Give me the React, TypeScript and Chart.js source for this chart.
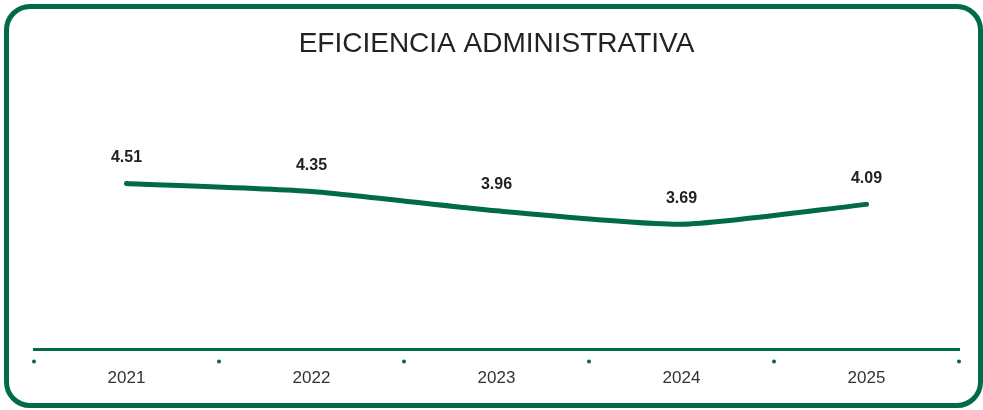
import React, { useEffect, useRef } from "react";
import { Chart, registerables } from "chart.js";

Chart.register(...registerables);

const TITLE = "EFICIENCIA ADMINISTRATIVA";
const years = ["2021", "2022", "2023", "2024", "2025"];
const values = [4.51, 4.35, 3.96, 3.69, 4.09];

const GREEN = "#006B46";
const TEXT = "#222222";
const FONT = "'Liberation Sans', Arial, Helvetica, sans-serif";

const dotsPlugin = {
  id: "boundaryDots",
  afterDraw(chart: any) {
    const x = chart.scales.x;
    const ctx = chart.ctx;
    const y = chart.chartArea.bottom + 12;
    ctx.save();
    ctx.fillStyle = GREEN;
    for (let i = 0; i <= years.length; i++) {
      const px = x.getPixelForValue(i - 0.5);
      ctx.beginPath();
      ctx.arc(px, y, 2, 0, Math.PI * 2);
      ctx.fill();
    }
    ctx.restore();
  },
};

const labelsPlugin = {
  id: "valueLabels",
  afterDatasetsDraw(chart: any) {
    const ctx = chart.ctx;
    const meta = chart.getDatasetMeta(0);
    ctx.save();
    ctx.fillStyle = TEXT;
    ctx.font = `bold 16px ${FONT}`;
    ctx.textAlign = "center";
    ctx.textBaseline = "middle";
    meta.data.forEach((pt: any, i: number) => {
      ctx.fillText(values[i].toFixed(2), pt.x, pt.y - 26);
    });
    ctx.restore();
  },
};

export default function App() {
  const ref = useRef<HTMLCanvasElement>(null);
  useEffect(() => {
    if (!ref.current) return;
    const chart = new Chart(ref.current, {
      type: "line",
      data: {
        labels: years,
        datasets: [
          {
            data: values,
            borderColor: GREEN,
            borderWidth: 5,
            borderCapStyle: "round",
            borderJoinStyle: "round",
            pointRadius: 0,
            tension: 0.2,
            fill: false,
          },
        ],
      },
      options: {
        responsive: false,
        animation: false,
        layout: { padding: { left: 34, right: 24, top: 0, bottom: 10 } },
        plugins: {
          legend: { display: false },
          tooltip: { enabled: false },
          title: {
            display: true,
            text: TITLE,
            color: TEXT,
            font: { family: FONT, size: 28, weight: "normal" },
            padding: { top: 27, bottom: 19 },
          },
        },
        scales: {
          x: {
            offset: true,
            grid: { display: false },
            border: { display: true, color: GREEN, width: 3 },
            ticks: {
              color: "#333333",
              padding: 11,
              font: { family: FONT, size: 17 },
            },
          },
          y: {
            display: false,
            min: 1.18,
            max: 6.59,
          },
        },
      },
      plugins: [dotsPlugin, labelsPlugin],
    });
    return () => chart.destroy();
  }, []);

  return (
    <div style={{ position: "absolute", left: 0, top: 0, width: 983, height: 410, background: "#fff" }}>
      <div
        style={{
          position: "absolute",
          left: 4,
          top: 4,
          width: 979,
          height: 404,
          boxSizing: "border-box",
          border: `5px solid ${GREEN}`,
          borderRadius: 26,
        }}
      />
      <canvas ref={ref} width={983} height={410} style={{ position: "absolute", left: 0, top: 0 }} />
    </div>
  );
}
